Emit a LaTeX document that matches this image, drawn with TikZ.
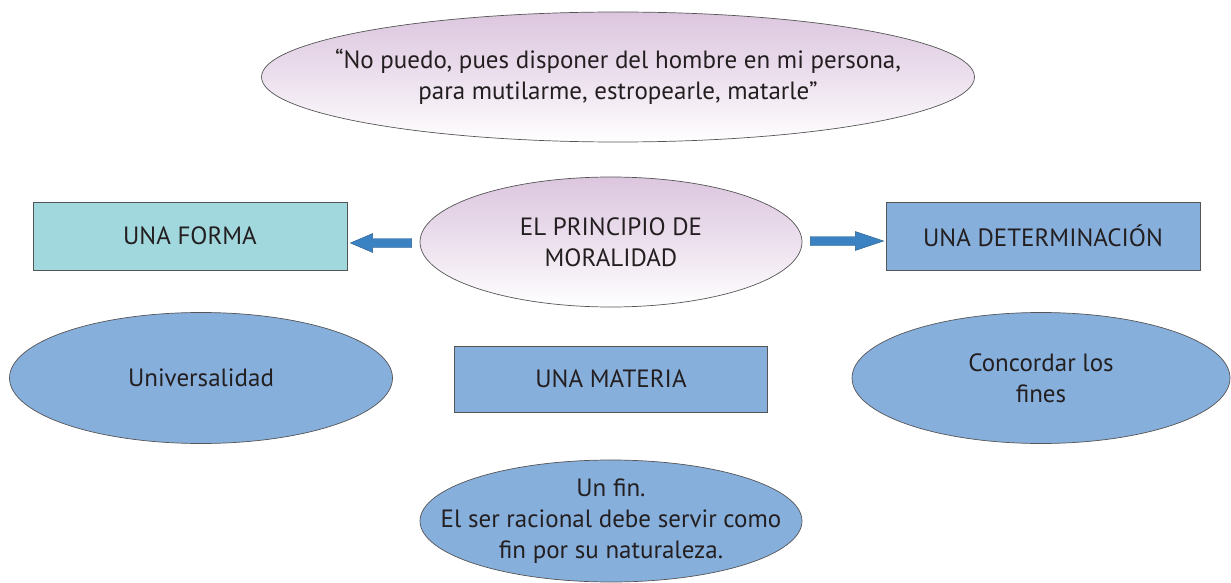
\documentclass[tikz,border=0pt]{standalone}
\usepackage{fontspec}
\setmainfont{PT Sans}
\usetikzlibrary{shapes.geometric,arrows.meta,calc}
\definecolor{mauve}{HTML}{DCC6DF}
\definecolor{teal}{HTML}{A0D8DE}
\definecolor{bluebox}{HTML}{87AFDC}
\definecolor{arrowblue}{HTML}{3B82C3}
\definecolor{edge}{HTML}{555555}
\definecolor{txt}{HTML}{231F20}
\tikzset{
  base/.style={draw=edge, line width=0.7pt, text=txt, align=center, inner sep=0pt,
    font=\fontsize{25}{31}\selectfont},
  ell/.style={base, ellipse, inner xsep=-60pt, inner ysep=-20pt},
  pinkell/.style={ell, top color=mauve, bottom color=white, middle color=mauve!55!white},
  blueell/.style={ell, fill=bluebox},
  tealbox/.style={base, rectangle, fill=teal},
  bluebox/.style={base, rectangle, fill=bluebox},
  blockarrow/.style={draw=arrowblue!70!black, line width=0.4pt, fill=arrowblue}
}
\begin{document}
\begin{tikzpicture}[x=1pt,y=-1pt]
\useasboundingbox (0,0) rectangle (1231,583);
\node[pinkell, minimum width=713pt, minimum height=130pt] (quote) at (618,77)
  {“No puedo, pues disponer del hombre en mi persona,\\para mutilarme, estropearle, matarle”};
\node[pinkell, minimum width=382pt, minimum height=130pt] (ppio) at (611,242)
  {EL PRINCIPIO DE\\MORALIDAD};
\node[tealbox, minimum width=314pt, minimum height=68pt] (forma) at (190,236) {UNA FORMA};
\node[bluebox, minimum width=314pt, minimum height=68pt] (deter) at (1043,236) {UNA DETERMINACIÓN};
\node[blueell, minimum width=383pt, minimum height=131pt] (univ) at (201,378) {Universalidad};
\node[bluebox, minimum width=313pt, minimum height=66pt] (mat) at (611,379) {UNA MATERIA};
\node[blueell, minimum width=378pt, minimum height=131pt] (conc) at (1041,378) {Concordar los\\fines};
\node[blueell, minimum width=382pt, minimum height=122pt] (fin) at (611,521)
  {Un fin.\\El ser racional debe servir como\\fin por su naturaleza.};
% left block arrow
\coordinate (la) at ([xshift=-8pt,yshift=-1pt]ppio.west);
\coordinate (lb) at ([xshift=3pt]forma.east |- la);
\draw[blockarrow] (la) ++(0,-4.5) -- ++(-39,0) -- ++(0,-5) -- (lb) -- ($(la)+(-39,9.5)$) -- ++(0,-5) -- ($(la)+(0,4.5)$) -- cycle;
% right block arrow
\coordinate (ra) at ([xshift=8pt,yshift=1pt]ppio.east);
\coordinate (rb) at ([xshift=-2pt]deter.west |- ra);
\draw[blockarrow] (ra) ++(0,-4.5) -- ++(45,0) -- ++(0,-5) -- (rb) -- ($(ra)+(45,9.5)$) -- ++(0,-5) -- ($(ra)+(0,4.5)$) -- cycle;
\end{tikzpicture}
\end{document}
